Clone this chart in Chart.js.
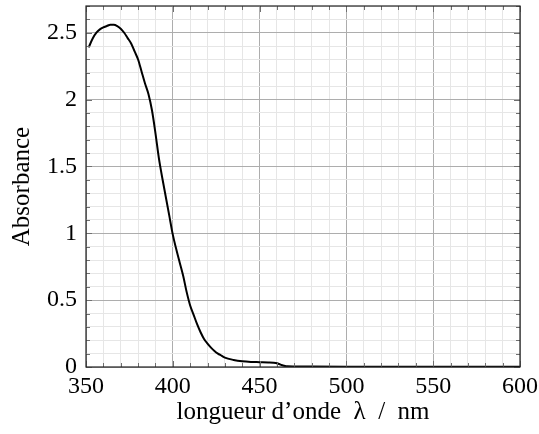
<!DOCTYPE html>
<html>
<head>
<meta charset="utf-8">
<script src="https://cdn.jsdelivr.net/npm/chart.js@4.4.0/dist/chart.umd.min.js"></script>
<style>
  html, body { margin: 0; padding: 0; background: #fff; }
  #wrap { width: 539px; height: 434px; }
</style>
</head>
<body>
<div id="wrap"><canvas id="spectre"></canvas></div>
<script>
const lambdas = [351.5, 354, 356, 358, 360, 362, 364, 366, 368, 370, 372, 374, 376, 378, 380,
  382, 384, 386, 388, 390, 392, 394, 396, 398, 400, 402, 404, 406, 408, 410, 412, 414,
  416, 418, 420, 422, 424, 426, 428, 430, 435, 440, 445, 450, 455, 458, 460, 462, 464, 466,
  470, 480, 500, 550, 600]
const absorbance = [2.39, 2.46, 2.50, 2.525, 2.54, 2.55, 2.56, 2.56, 2.55, 2.53, 2.50, 2.46, 2.42, 2.36, 2.30,
  2.21, 2.12, 2.04, 1.92, 1.75, 1.56, 1.41, 1.27, 1.13, 0.99, 0.88, 0.78, 0.68, 0.56, 0.46, 0.39, 0.32,
  0.26, 0.21, 0.175, 0.145, 0.12, 0.10, 0.085, 0.07, 0.053, 0.043, 0.038, 0.036, 0.034, 0.032, 0.028, 0.018, 0.01, 0.005,
  0.004, 0.003, 0.002, 0.002, 0.002]
const xTicks = [350, 400, 450, 500, 550, 600]
const yTicks = [0, 0.5, 1, 1.5, 2, 2.5]

const police = "'Liberation Serif', 'DejaVu Serif', serif"
const majeur = '#adadad'
const mineur = '#e6e6e6'

function estMajeur(v, list) {
  return list.some(t => Math.abs(t - v) < 1e-6)
}

// cadre noir + petites graduations vers l'intérieur (style pgfplots)
const cadre = {
  id: 'cadre',
  afterDraw(chart) {
    const ctx = chart.ctx
    const a = chart.chartArea
    const sx = chart.scales.x, sy = chart.scales.y
    ctx.save()
    ctx.strokeStyle = '#707070'
    ctx.lineWidth = 1
    ctx.beginPath()
    sx.ticks.forEach(t => {
      const px = Math.round(sx.getPixelForValue(t.value)) + 0.5
      const len = estMajeur(t.value, xTicks) ? 6 : 4
      ctx.moveTo(px, a.bottom); ctx.lineTo(px, a.bottom - len)
      ctx.moveTo(px, a.top); ctx.lineTo(px, a.top + len)
    })
    sy.ticks.forEach(t => {
      const py = Math.round(sy.getPixelForValue(t.value)) + 0.5
      const len = estMajeur(t.value, yTicks) ? 6 : 4
      ctx.moveTo(a.left, py); ctx.lineTo(a.left + len, py)
      ctx.moveTo(a.right, py); ctx.lineTo(a.right - len, py)
    })
    ctx.stroke()
    ctx.strokeStyle = '#222'
    ctx.lineWidth = 1.2
    ctx.strokeRect(a.left, a.top, a.right - a.left, a.bottom - a.top)
    ctx.restore()
  }
}

const data = {
  datasets: [{
    label: 'Absorbance',
    data: lambdas.map((l, i) => ({ x: l, y: absorbance[i] })),
    borderColor: '#000',
    borderWidth: 2,
    pointRadius: 0,
    cubicInterpolationMode: 'monotone',
    fill: false
  }]
}

const config = {
  type: 'line',
  data,
  options: {
    responsive: true,
    maintainAspectRatio: false,
    animation: false,
    layout: { padding: { top: 6, right: 19, left: 0, bottom: 0 } },
    plugins: { legend: { display: false }, tooltip: { enabled: false } },
    scales: {
      x: {
        type: 'linear',
        min: 350,
        max: 600,
        afterFit: s => { s.height = 67; s.paddingLeft = 0; s.paddingRight = 0 },
        border: { display: false },
        grid: {
          drawTicks: false,
          color: c => estMajeur(c.tick.value, xTicks) ? majeur : mineur,
          lineWidth: 1
        },
        ticks: {
          stepSize: 10,
          autoSkip: false,
          maxRotation: 0,
          padding: 5,
          color: '#000',
          font: { family: police, size: 24 },
          callback: v => estMajeur(v, xTicks) ? String(v) : ''
        },
        title: {
          display: true,
          text: 'longueur d\u2019onde  \u03bb  /  nm',
          color: '#000',
          font: { family: police, size: 25 },
          padding: { top: 0, bottom: 7 }
        }
      },
      y: {
        min: 0,
        max: 2.7,
        afterFit: s => { s.width = 86; s.paddingTop = 0; s.paddingBottom = 0 },
        border: { display: false },
        grid: {
          drawTicks: false,
          color: c => estMajeur(c.tick.value, yTicks) ? majeur : mineur,
          lineWidth: 1
        },
        ticks: {
          stepSize: 0.1,
          autoSkip: false,
          padding: 9,
          color: '#000',
          font: { family: police, size: 24 },
          callback: v => estMajeur(v, yTicks) ? String(Math.round(v * 10) / 10) : ''
        },
        title: {
          display: true,
          text: 'Absorbance',
          color: '#000',
          font: { family: police, size: 25 },
          padding: { top: 7, bottom: 0 }
        }
      }
    }
  },
  plugins: [cadre]
}

const spectre = new Chart(document.getElementById('spectre'), config)
</script>
</body>
</html>
